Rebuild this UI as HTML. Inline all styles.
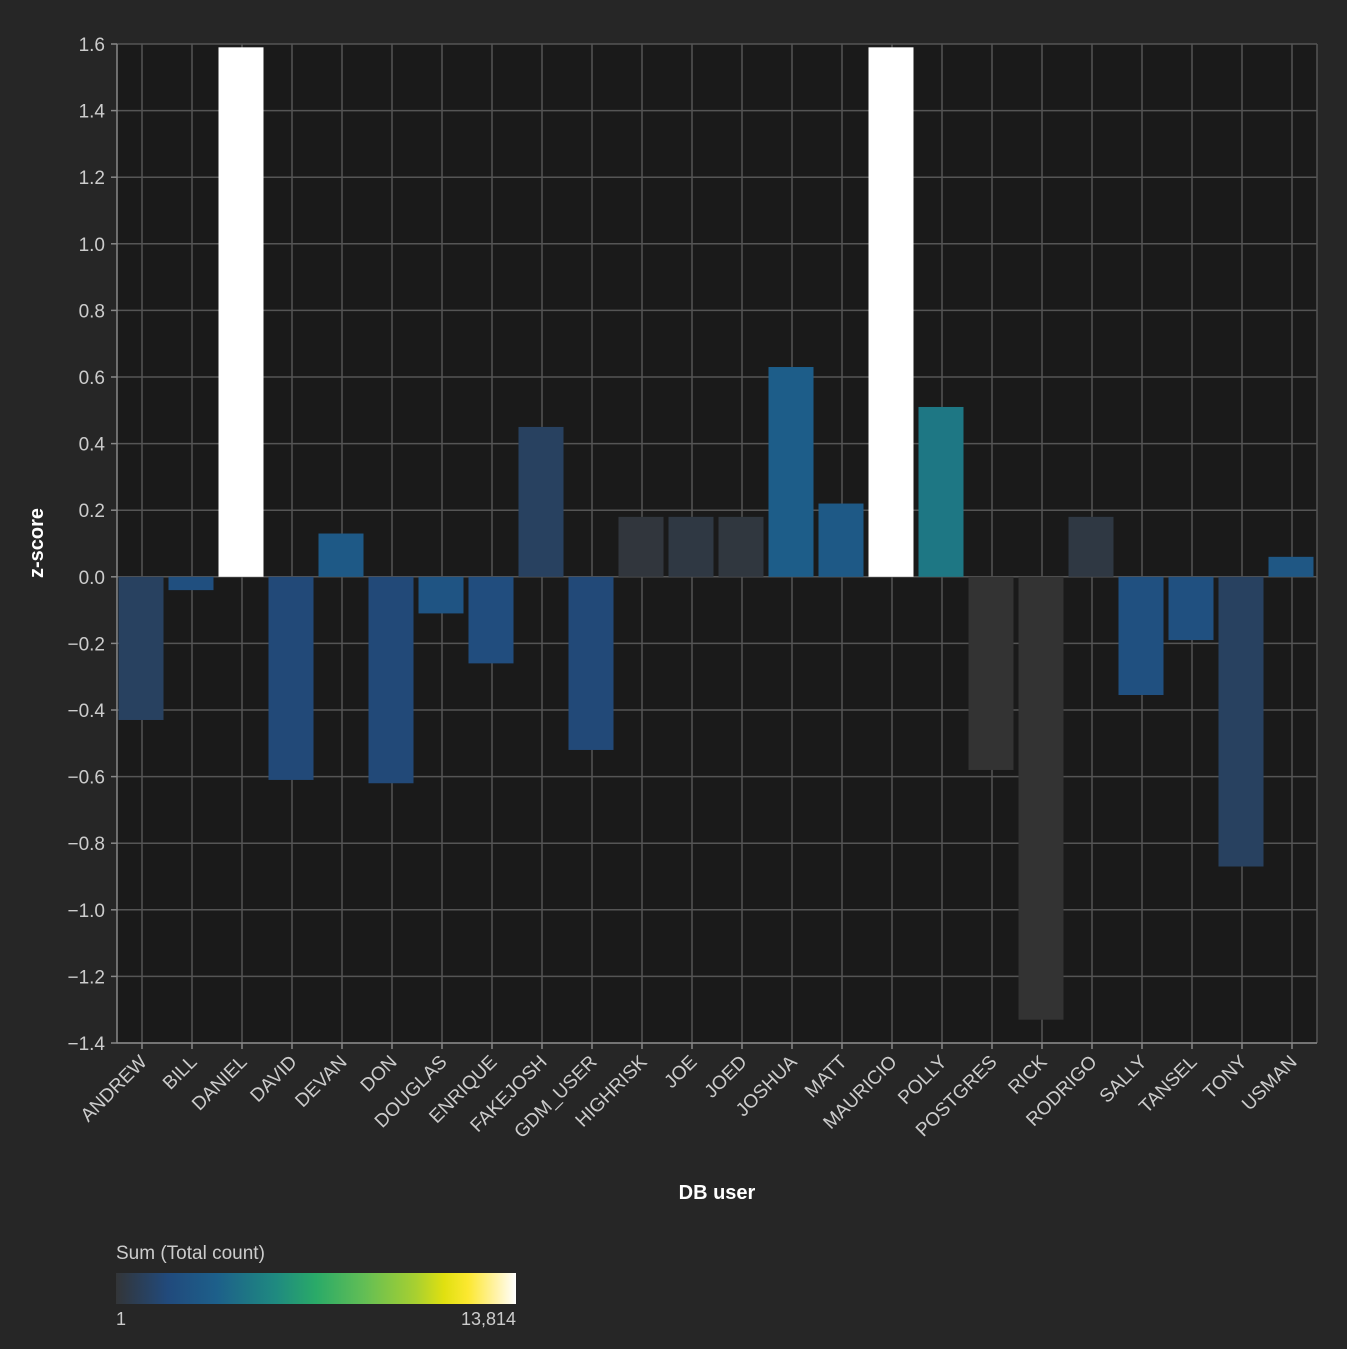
<!DOCTYPE html>
<html><head><meta charset="utf-8"><style>
html,body{margin:0;padding:0;background:#262626;overflow:hidden;width:1347px;height:1349px;}
svg{display:block;}
svg text{font-family:"Liberation Sans","DejaVu Sans",sans-serif;}
</style></head><body>
<svg id="chart" width="1347" height="1349" xmlns="http://www.w3.org/2000/svg">
<defs>
<linearGradient id="lg" x1="0" x2="1" y1="0" y2="0">
<stop offset="0" stop-color="#333538"/>
<stop offset="0.13" stop-color="#214a7c"/>
<stop offset="0.25" stop-color="#1d5f8a"/>
<stop offset="0.4" stop-color="#1f8a80"/>
<stop offset="0.5" stop-color="#2aaa68"/>
<stop offset="0.62" stop-color="#62be55"/>
<stop offset="0.75" stop-color="#a8d030"/>
<stop offset="0.82" stop-color="#e0e010"/>
<stop offset="0.88" stop-color="#fce830"/>
<stop offset="0.95" stop-color="#fff3a8"/>
<stop offset="1" stop-color="#ffffff"/>
</linearGradient>
</defs>
<rect x="117" y="44" width="1200" height="999" fill="#1a1a1a"/>
<g id="grid"></g><g id="bars"></g><g id="axes"></g>
<text transform="translate(43,543) rotate(-90)" text-anchor="middle" fill="#fff" font-size="20" font-weight="bold">z-score</text>
<text x="717" y="1199" text-anchor="middle" fill="#fff" font-size="20" font-weight="bold">DB user</text>
<g>
<text x="116" y="1259" fill="#ccc" font-size="19">Sum (Total count)</text>
<rect x="116" y="1273" width="400" height="31" fill="url(#lg)"/>
<text x="116" y="1325" fill="#ccc" font-size="18">1</text>
<text x="516" y="1325" text-anchor="end" fill="#ccc" font-size="18">13,814</text>
</g>
</svg>
<script>
const categories=["ANDREW","BILL","DANIEL","DAVID","DEVAN","DON","DOUGLAS","ENRIQUE","FAKEJOSH","GDM_USER","HIGHRISK","JOE","JOED","JOSHUA","MATT","MAURICIO","POLLY","POSTGRES","RICK","RODRIGO","SALLY","TANSEL","TONY","USMAN"];
const zscores=[-0.43,-0.04,1.59,-0.61,0.13,-0.62,-0.11,-0.26,0.45,-0.52,0.18,0.18,0.18,0.63,0.22,1.59,0.51,-0.58,-1.33,0.18,-0.355,-0.19,-0.87,0.06];
const counts=[1100,2200,13814,1700,3000,1700,2600,2000,1100,1700,250,400,300,3300,3000,13814,4600,1,1,400,2300,2300,1100,2800];
const yTicks=[1.6,1.4,1.2,1.0,0.8,0.6,0.4,0.2,0.0,-0.2,-0.4,-0.6,-0.8,-1.0,-1.2,-1.4];
const NS="http://www.w3.org/2000/svg";
const X0=117,W=1200,Y0=44,H=999,YMAX=1.6,YMIN=-1.4,CMAX=13814;
const bw=W/categories.length;
function y(v){return Y0+(YMAX-v)/(YMAX-YMIN)*H;}
function xc(i){return X0+bw*(i+0.5);}
const stops=[[0,[51,51,51]],[0.13,[33,74,124]],[0.25,[29,95,138]],[0.4,[31,138,128]],[0.5,[42,170,104]],[0.62,[98,190,85]],[0.75,[168,208,48]],[0.82,[224,224,16]],[0.88,[252,232,48]],[0.95,[255,243,168]],[1,[255,255,255]]];
function color(c){const t=Math.max(0,Math.min(1,(c-1)/(CMAX-1)));for(let k=1;k<stops.length;k++){if(t<=stops[k][0]){const a=stops[k-1],b=stops[k],f=(t-a[0])/(b[0]-a[0]);return "rgb("+a[1].map((v,j)=>Math.round(v+(b[1][j]-v)*f)).join(",")+")";}}return "#fff";}
function mk(tag,attrs,parent){const e=document.createElementNS(NS,tag);for(const k in attrs)e.setAttribute(k,attrs[k]);parent.appendChild(e);return e;}
const grid=document.getElementById('grid'),bars=document.getElementById('bars'),axes=document.getElementById('axes');
yTicks.forEach(v=>{
const l=mk('line',{x1:X0,x2:X0+W,y1:y(v),y2:y(v),stroke:'#555','stroke-width':1.5},grid);


mk('line',{x1:X0-6,x2:X0,y1:y(v),y2:y(v),stroke:'#888','stroke-width':1.5},axes);
const t=mk('text',{x:X0-12,y:y(v)+7,'text-anchor':'end',fill:'#ccc','font-size':19},axes);
t.textContent=(v<0?"\u2212":"")+Math.abs(v).toFixed(1);


});
mk('line',{x1:X0+W,x2:X0+W,y1:Y0,y2:Y0+H,stroke:'#555','stroke-width':1.5},grid);
categories.forEach((c,i)=>{
const l=mk('line',{x1:xc(i),x2:xc(i),y1:Y0,y2:Y0+H,stroke:'#555','stroke-width':1.5},grid);


const v=zscores[i];const top=Math.min(y(v),y(0)),h=Math.abs(y(v)-y(0));
const r=mk('rect',{x:xc(i)-bw*0.45-1,y:top,width:bw*0.9,height:h,fill:color(counts[i])},bars);


mk('line',{x1:xc(i),x2:xc(i),y1:Y0+H,y2:Y0+H+6,stroke:'#888','stroke-width':1.5},axes);
const t=mk('text',{x:0,y:0,'text-anchor':'end',fill:'#ccc','font-size':19,transform:'translate('+(xc(i)+6)+','+(Y0+H+20)+') rotate(-45)'},axes);
t.textContent=c;


});
mk('line',{x1:X0,x2:X0,y1:Y0,y2:Y0+H,stroke:'#888','stroke-width':1.5},axes);
mk('line',{x1:X0,x2:X0+W,y1:Y0+H,y2:Y0+H,stroke:'#888','stroke-width':1.5},axes);
</script>
</body></html>
